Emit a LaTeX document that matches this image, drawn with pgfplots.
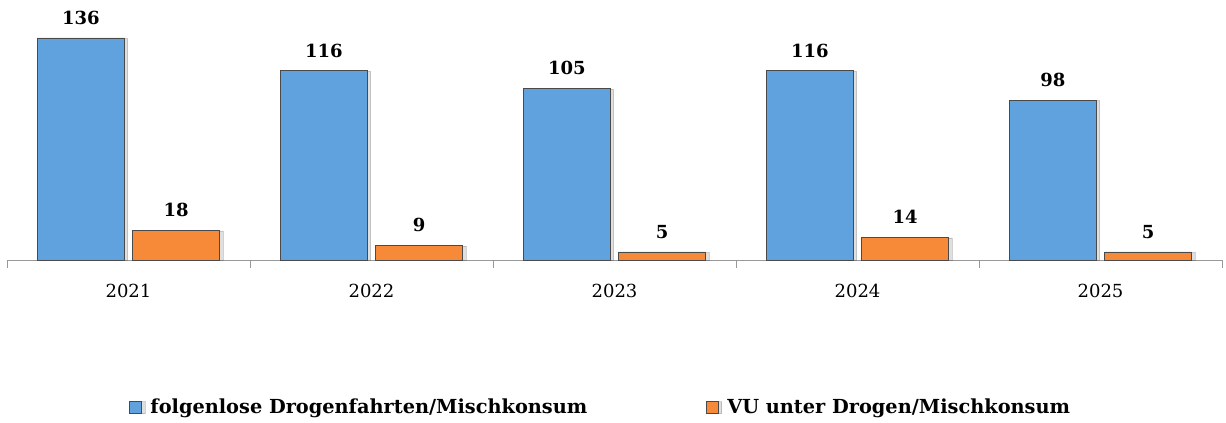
\documentclass[border=0pt]{standalone}
\usepackage{pgfplots}
\pgfplotsset{compat=1.18}
\usepackage{fontspec}
\setmainfont{DejaVu Serif}
\usetikzlibrary{shadows}
\definecolor{cblue}{HTML}{5FA2DD}
\definecolor{corange}{HTML}{F68A38}
\definecolor{cedge}{HTML}{4A4A4A}
\begin{document}
\begin{tikzpicture}
\path[use as bounding box] (-5.25pt,-122.25pt) rectangle (914.25pt,195pt);
\begin{axis}[
  at={(0,0)}, anchor=south west,
  scale only axis, width=911.25pt, height=166.5pt,
  ymin=0, ymax=136, xmin=-0.5, xmax=4.5,
  axis x line*=bottom, axis y line=none,
  x axis line style={draw=gray!80},
  /pgf/number format/assume math mode=true,
  ybar, bar width=0.358,
  xtick={0,1,2,3,4}, xticklabels={2021,2022,2023,2024,2025},
  major x tick style={draw=none},
  minor xtick={-0.5,0.5,1.5,2.5,3.5,4.5},
  minor x tick style={draw=gray!80},
  minor tick length=6pt, tick align=outside,
  xticklabel style={font=\fontsize{13.5}{15}\selectfont, yshift=-10pt},
  clip=false,
  nodes near coords={\pgfmathprintnumber[assume math mode=true]{\pgfplotspointmeta}},
  nodes near coords style={font=\bfseries\fontsize{13.5}{15}\selectfont, yshift=6.5pt},
  legend columns=2,
  legend style={at={(0.4889,-0.662)}, anchor=center, draw=none, fill=none,
    font=\bfseries\fontsize{14.5}{16}\selectfont,
    /tikz/every even column/.append style={column sep=87pt}},
  legend image code/.code={\path[#1] (0pt,-4.5pt) rectangle (9pt,4.5pt); \path (13.5pt,0pt);},
]
\addplot[fill=cblue, draw=cedge, bar shift=-0.196,
  drop shadow={shadow xshift=2.5pt, shadow yshift=-0.5pt, opacity=0.25}] coordinates {(0,136) (1,116) (2,105) (3,116) (4,98)};
\addplot[fill=corange, draw=cedge, bar shift=0.196,
  drop shadow={shadow xshift=2.5pt, shadow yshift=-0.5pt, opacity=0.25}] coordinates {(0,18) (1,9) (2,5) (3,14) (4,5)};
\legend{folgenlose Drogenfahrten/Mischkonsum, VU unter Drogen/Mischkonsum}
\end{axis}
\end{tikzpicture}
\end{document}
